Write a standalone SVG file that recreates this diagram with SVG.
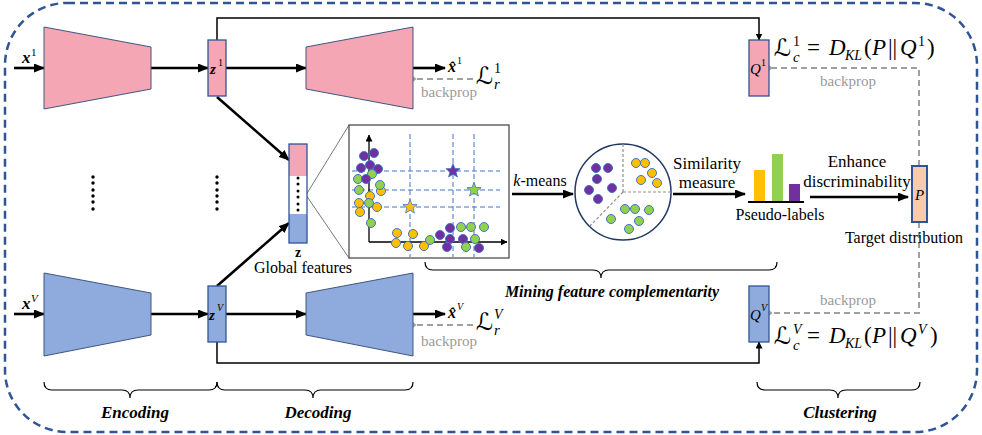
<svg xmlns="http://www.w3.org/2000/svg" width="982" height="435" viewBox="0 0 982 435">
<style>
.pink{fill:#F4A6B4;stroke:#3E5680;stroke-width:1}
.blue{fill:#8FAADC;stroke:#3E5680;stroke-width:1}
.vec{stroke:#2F5597;stroke-width:1.3}
.thick{stroke:#000;stroke-width:2.6;fill:none}
.thin{stroke:#000;stroke-width:1.5;fill:none}
.gd{stroke:#A0A0A0;stroke-width:2;stroke-dasharray:6 4;fill:none}
.bd{stroke:#4472C4;stroke-width:1;stroke-dasharray:5 3;fill:none}
text{font-family:'Times New Roman','Liberation Serif',Tinos,'DejaVu Serif',serif}
.t{fill:#000}
.bi{font-weight:bold;font-style:italic;fill:#000}
.bp{font-size:15px;fill:#9A9A9A;text-anchor:middle}
.m{fill:#000}
.sc{font-family:'DejaVu Serif','DejaVu Sans',serif}
.pu{fill:#7030A0;stroke:#4472C4;stroke-width:1}
.gr{fill:#92D050;stroke:#4472C4;stroke-width:1}
.ye{fill:#FFC000;stroke:#4472C4;stroke-width:1}
.brace{stroke:#000;stroke-width:1.2;fill:none}
</style>
<defs>
<marker id="ah" markerUnits="userSpaceOnUse" markerWidth="11" markerHeight="9" refX="10" refY="4.5" orient="auto"><path d="M0,0 L11,4.5 L0,9 Z" fill="#000"/></marker>
<marker id="ahs" markerUnits="userSpaceOnUse" markerWidth="7" markerHeight="7" refX="6.5" refY="3.5" orient="auto"><path d="M0,0 L7,3.5 L0,7 Z" fill="#000"/></marker>
<marker id="ga" markerUnits="userSpaceOnUse" markerWidth="10" markerHeight="10" refX="2" refY="5" orient="auto"><path d="M7,1 L2,5 L7,9" fill="none" stroke="#A0A0A0" stroke-width="2"/></marker>
<path id="star" d="M0,-7.5 L1.88,-2.59 L7.13,-2.32 L3.04,0.99 L4.41,6.07 L0,3.2 L-4.41,6.07 L-3.04,0.99 L-7.13,-2.32 L-1.88,-2.59Z"/>
</defs>

<rect x="5" y="3" width="972" height="429" rx="62" ry="62" fill="none" stroke="#2F5597" stroke-width="2.5" stroke-dasharray="8 5"/>

<g id="connectors">
<line class="thick" x1="14" y1="68" x2="44" y2="68" marker-end="url(#ah)"/>
<line class="thick" x1="151" y1="68" x2="208" y2="68" marker-end="url(#ah)"/>
<line class="thick" x1="226" y1="68" x2="306" y2="68" marker-end="url(#ah)"/>
<line class="thick" x1="413" y1="68" x2="445" y2="68" marker-end="url(#ah)"/>
<line class="thick" x1="14" y1="314" x2="44" y2="314" marker-end="url(#ah)"/>
<line class="thick" x1="151" y1="314" x2="208" y2="314" marker-end="url(#ah)"/>
<line class="thick" x1="226" y1="314" x2="306" y2="314" marker-end="url(#ah)"/>
<line class="thick" x1="413" y1="314" x2="445" y2="314" marker-end="url(#ah)"/>
<line class="thick" x1="217" y1="97" x2="289" y2="160" marker-end="url(#ah)"/>
<line class="thick" x1="217" y1="286" x2="289" y2="223" marker-end="url(#ah)"/>
<path class="thin" d="M217,40 L217,18 L759,18 L759,40" marker-end="url(#ahs)"/>
<path class="thin" d="M217,342 L217,363 L759,363 L759,342" marker-end="url(#ahs)"/>
<line class="thick" x1="512" y1="194" x2="573" y2="194" marker-end="url(#ah)"/>
<line class="thick" x1="673" y1="194" x2="745" y2="194" marker-end="url(#ah)"/>
<line class="thick" x1="810" y1="197" x2="908" y2="197" marker-end="url(#ah)"/>
<line class="gd" x1="473" y1="79" x2="415" y2="79" marker-end="url(#ga)"/>
<line class="gd" x1="473" y1="325" x2="415" y2="325" marker-end="url(#ga)"/>
<path class="gd" d="M919,166 L919,68 L771,68" marker-end="url(#ga)"/>
<path class="gd" d="M919,222 L919,313 L771,313" marker-end="url(#ga)"/>
<line x1="306" y1="195" x2="349" y2="125" stroke="#555" stroke-width="0.8"/>
<line x1="306" y1="195" x2="349" y2="258" stroke="#555" stroke-width="0.8"/>
</g>

<g id="encoder1"><polygon class="pink" points="44,27 151,47 151,89 44,109"/></g>
<g id="encoderV"><polygon class="blue" points="44,273 151,293 151,335 44,356"/></g>
<g id="decoder1"><polygon class="pink" points="306,47 413,27 413,109 306,89"/></g>
<g id="decoderV"><polygon class="blue" points="306,293 413,273 413,356 306,335"/></g>

<g id="z1"><rect class="pink vec" x="208" y="40" width="18" height="56"/>
<text class="bi" x="210" y="74" font-size="15">z</text><text class="t" x="218" y="66" font-size="10">1</text></g>
<g id="zV"><rect class="blue vec" x="208" y="286" width="18" height="56"/>
<text class="bi" x="209" y="320" font-size="15">z</text><text class="t" x="217" y="311" font-size="10" font-style="italic">V</text></g>
<g id="Q1"><rect class="pink vec" x="749" y="40" width="20" height="56"/>
<text class="t" x="750" y="74" font-size="15" font-style="italic">Q</text><text class="t" x="761" y="66" font-size="10">1</text></g>
<g id="QV"><rect class="blue vec" x="749" y="286" width="20" height="56"/>
<text class="t" x="750" y="320" font-size="15" font-style="italic">Q</text><text class="t" x="761" y="311" font-size="10" font-style="italic">V</text></g>
<g id="P"><rect x="912" y="166" width="15" height="56" fill="#F8CBAD" stroke="#2F5597" stroke-width="2"/>
<text class="t" x="919.5" y="200" font-size="15" font-style="italic" text-anchor="middle">P</text>
<text class="t" x="904" y="243" font-size="16" text-anchor="middle">Target distribution</text></g>

<g id="inputs">
<text class="bi" x="22" y="63" font-size="17">x</text><text class="t" x="31" y="56" font-size="11">1</text>
<text class="bi" x="22" y="309" font-size="17">x</text><text class="t" x="31" y="302" font-size="11" font-style="italic">V</text>
<text class="bi" x="448" y="72" font-size="16">x̂</text><text class="t" x="457" y="64" font-size="10">1</text>
<text class="bi" x="448" y="318" font-size="16">x̂</text><text class="t" x="457" y="310" font-size="10" font-style="italic">V</text>
</g>

<g id="losses">
<text class="m sc" x="476" y="84" font-size="24" font-style="italic">ℒ</text><text class="m" x="494" y="73" font-size="14">1</text><text class="m" x="494" y="89" font-size="15" font-style="italic">r</text>
<text class="m sc" x="476" y="330" font-size="24" font-style="italic">ℒ</text><text class="m" x="494" y="319" font-size="14" font-style="italic">V</text><text class="m" x="494" y="335" font-size="15" font-style="italic">r</text>
<text class="bp" x="449" y="97">backprop</text>
<text class="bp" x="449" y="346">backprop</text>
<text class="bp" x="848" y="86">backprop</text>
<text class="bp" x="848" y="305">backprop</text>
<text class="m sc" x="774" y="56" font-size="24" font-style="italic">ℒ</text><text class="m" x="793" y="46" font-size="14">1</text><text class="m" x="793" y="62" font-size="15" font-style="italic">c</text>
<text class="m" y="55" font-size="23"><tspan x="807">=</tspan><tspan x="829" font-style="italic">D</tspan><tspan x="845" dy="5" font-size="14" font-style="italic">KL</tspan><tspan x="864" dy="-5">(</tspan><tspan x="872" font-style="italic">P</tspan><tspan x="888">||</tspan><tspan x="900" font-style="italic">Q</tspan><tspan x="918" dy="-9" font-size="14">1</tspan><tspan x="927" dy="9">)</tspan></text>
<text class="m sc" x="774" y="344" font-size="24" font-style="italic">ℒ</text><text class="m" x="793" y="334" font-size="14" font-style="italic">V</text><text class="m" x="793" y="350" font-size="15" font-style="italic">c</text>
<text class="m" y="343" font-size="23"><tspan x="807">=</tspan><tspan x="829" font-style="italic">D</tspan><tspan x="845" dy="5" font-size="14" font-style="italic">KL</tspan><tspan x="864" dy="-5">(</tspan><tspan x="872" font-style="italic">P</tspan><tspan x="888">||</tspan><tspan x="900" font-style="italic">Q</tspan><tspan x="918" dy="-9" font-size="14" font-style="italic">V</tspan><tspan x="930" dy="9">)</tspan></text>
</g>

<g id="ellipsis">
<circle cx="93" cy="177" r="1.7"/><circle cx="93" cy="183" r="1.7"/><circle cx="93" cy="190" r="1.7"/><circle cx="93" cy="196" r="1.7"/><circle cx="93" cy="202" r="1.7"/><circle cx="93" cy="209" r="1.7"/>
<circle cx="217" cy="177" r="1.7"/><circle cx="217" cy="183" r="1.7"/><circle cx="217" cy="190" r="1.7"/><circle cx="217" cy="196" r="1.7"/><circle cx="217" cy="202" r="1.7"/><circle cx="217" cy="209" r="1.7"/>
</g>

<g id="global">
<rect x="289" y="144" width="18" height="32" fill="#F4A6B4"/>
<rect x="289" y="176" width="18" height="38" fill="#fff"/>
<rect x="289" y="214" width="18" height="29" fill="#8FAADC"/>
<rect x="289" y="144" width="18" height="99" fill="none" class="vec"/>
<circle cx="298" cy="178" r="1.5"/><circle cx="298" cy="184" r="1.5"/><circle cx="298" cy="191" r="1.5"/><circle cx="298" cy="197" r="1.5"/><circle cx="298" cy="204" r="1.5"/><circle cx="298" cy="210" r="1.5"/>
<text class="t" x="298" y="257" font-size="14" font-weight="bold" text-anchor="middle">z</text>
<text class="t" x="303" y="273" font-size="16" text-anchor="middle">Global features</text>
</g>

<g id="scatter">
<rect x="349" y="125" width="160" height="133" fill="#fff" stroke="#404040" stroke-width="1.2"/>
<line class="bd" x1="352" y1="171" x2="500" y2="171"/>
<line class="bd" x1="352" y1="190" x2="500" y2="190"/>
<line class="bd" x1="352" y1="207" x2="500" y2="207"/>
<line class="bd" x1="410" y1="134" x2="410" y2="257"/>
<line class="bd" x1="453" y1="134" x2="453" y2="257"/>
<line class="bd" x1="474" y1="134" x2="474" y2="257"/>
<line x1="369" y1="242" x2="369" y2="135" stroke="#000" stroke-width="1.3" marker-end="url(#ahs)"/>
<line x1="369" y1="242" x2="507" y2="242" stroke="#000" stroke-width="1.3" marker-end="url(#ahs)"/>
<circle class="pu" cx="364" cy="156" r="4.5"/><circle class="pu" cx="374" cy="153" r="4.5"/><circle class="pu" cx="361" cy="168" r="4.5"/><circle class="pu" cx="370" cy="165" r="4.5"/><circle class="pu" cx="378" cy="169" r="4.5"/>
<circle class="gr" cx="358" cy="179" r="4.5"/><circle class="gr" cx="372" cy="174" r="4.5"/><circle class="pu" cx="366" cy="179" r="4.5"/>
<circle class="ye" cx="381" cy="191" r="4.5"/><circle class="gr" cx="380" cy="185" r="4.5"/><circle class="gr" cx="359" cy="190" r="4.5"/>
<circle class="ye" cx="370" cy="196" r="4.5"/><circle class="ye" cx="359" cy="203" r="4.5"/><circle class="gr" cx="369" cy="203" r="4.5"/><circle class="ye" cx="377" cy="207" r="4.5"/><circle class="ye" cx="360" cy="212" r="4.5"/><circle class="gr" cx="371" cy="223" r="4.5"/>
<circle class="ye" cx="397" cy="233" r="4.5"/><circle class="ye" cx="413" cy="234" r="4.5"/><circle class="ye" cx="396" cy="243" r="4.5"/><circle class="ye" cx="408" cy="246" r="4.5"/><circle class="ye" cx="424" cy="246" r="4.5"/>
<circle class="gr" cx="430" cy="240" r="4.5"/><circle class="pu" cx="440" cy="235" r="4.5"/><circle class="pu" cx="450" cy="228" r="4.5"/><circle class="gr" cx="461" cy="227" r="4.5"/><circle class="gr" cx="471" cy="227" r="4.5"/><circle class="gr" cx="484" cy="227" r="4.5"/>
<circle class="pu" cx="450" cy="239" r="4.5"/><circle class="pu" cx="463" cy="239" r="4.5"/><circle class="gr" cx="475" cy="239" r="4.5"/><circle class="pu" cx="447" cy="247" r="4.5"/><circle class="gr" cx="466" cy="247" r="4.5"/><circle class="pu" cx="479" cy="248" r="4.5"/>
<use href="#star" x="453" y="171" fill="#7030A0" stroke="#4472C4" stroke-width="0.8"/>
<use href="#star" x="474" y="190" fill="#92D050" stroke="#4472C4" stroke-width="0.8"/>
<use href="#star" x="410" y="207" fill="#FFC000" stroke="#4472C4" stroke-width="0.8"/>
</g>

<g id="kmeans"><text class="t" x="540" y="186" font-size="16" text-anchor="middle"><tspan font-style="italic">k</tspan>-means</text></g>

<g id="clusters">
<circle cx="623" cy="192" r="48" fill="#fff" stroke="#1F3864" stroke-width="1.5"/>
<path d="M623,192 L623,144 M623,192 L671,192 M623,192 L590,226" stroke="#909090" stroke-width="1.2" stroke-dasharray="3 2" fill="none"/>
<circle class="pu" cx="596" cy="168" r="4.5"/><circle class="pu" cx="608" cy="168" r="4.5"/><circle class="pu" cx="597" cy="179" r="4.5"/><circle class="pu" cx="589" cy="190" r="4.5"/><circle class="pu" cx="612" cy="188" r="4.5"/><circle class="pu" cx="598" cy="199" r="4.5"/>
<circle class="ye" cx="636" cy="163" r="4.5"/><circle class="ye" cx="645" cy="163" r="4.5"/><circle class="ye" cx="652" cy="173" r="4.5"/><circle class="ye" cx="641" cy="180" r="4.5"/><circle class="ye" cx="657" cy="183" r="4.5"/>
<circle class="gr" cx="625" cy="209" r="4.5"/><circle class="gr" cx="635" cy="209" r="4.5"/><circle class="gr" cx="649" cy="210" r="4.5"/><circle class="gr" cx="611" cy="219" r="4.5"/><circle class="gr" cx="639" cy="221" r="4.5"/><circle class="gr" cx="629" cy="229" r="4.5"/>
</g>

<g id="similarity">
<text class="t" x="707" y="169" font-size="17" text-anchor="middle">Similarity</text>
<text class="t" x="707" y="188" font-size="17" text-anchor="middle">measure</text>
</g>

<g id="pseudo">
<rect x="754" y="170" width="11" height="32" fill="#FFC000"/>
<rect x="772" y="154" width="11" height="48" fill="#92D050"/>
<rect x="789" y="184" width="11" height="18" fill="#7030A0"/>
<line x1="748" y1="202" x2="804" y2="202" stroke="#000" stroke-width="2"/>
<text class="t" x="780" y="220" font-size="16" text-anchor="middle">Pseudo-labels</text>
</g>

<g id="enhance">
<text class="t" x="857" y="167" font-size="17" text-anchor="middle">Enhance</text>
<text class="t" x="857" y="187" font-size="17" text-anchor="middle">discriminability</text>
</g>

<g id="braces">
<path class="brace" d="M44,382 Q44,390 52,390 L122,390 Q130,390 130,398 Q130,390 138,390 L209,390 Q217,390 217,382"/>
<path class="brace" d="M217,382 Q217,390 225,390 L305,390 Q313,390 313,398 Q313,390 321,390 L405,390 Q413,390 413,382"/>
<path class="brace" d="M425,262 Q425,270 433,270 L593,270 Q601,270 601,278 Q601,270 609,270 L769,270 Q777,270 777,262"/>
<path class="brace" d="M757,382 Q757,390 765,390 L830,390 Q838,390 838,398 Q838,390 846,390 L912,390 Q920,390 920,382"/>
<text class="bi" x="135" y="418" font-size="17" text-anchor="middle">Encoding</text>
<text class="bi" x="318" y="418" font-size="17" text-anchor="middle">Decoding</text>
<text class="bi" x="612" y="297" font-size="16" text-anchor="middle">Mining feature complementarity</text>
<text class="bi" x="840" y="418" font-size="17" text-anchor="middle">Clustering</text>
</g>
</svg>
